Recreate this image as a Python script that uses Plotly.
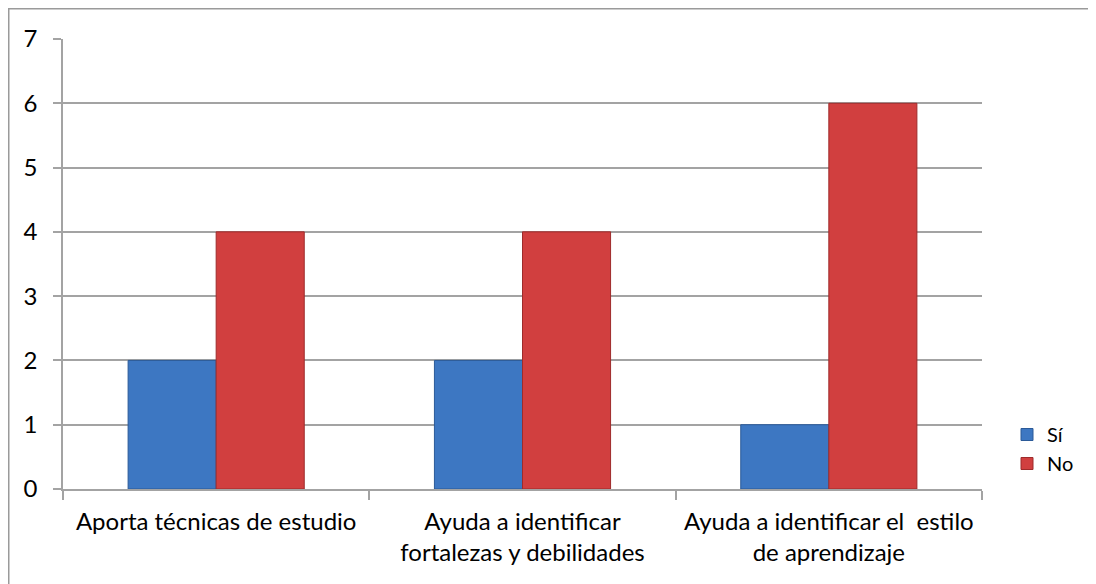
import plotly.graph_objects as go

categories = ["Aporta técnicas de estudio",
              "Ayuda a identificar<br>fortalezas y debilidades",
              "Ayuda a identificar el  estilo<br>de aprendizaje"]
si_values = [2, 2, 1]
no_values = [4, 4, 6]
y_ticks = [0, 1, 2, 3, 4, 5, 6, 7]

FONT = "Lato"
GRID = "#A3A3A3"
FS = 24

fig = go.Figure()
fig.add_trace(go.Bar(name="Sí", x=categories, y=si_values,
                     marker=dict(color="#3D77C2", line=dict(color="#2B5A98", width=1))))
fig.add_trace(go.Bar(name="No", x=categories, y=no_values,
                     marker=dict(color="#D13F3F", line=dict(color="#9E2B2B", width=1))))

# page body has an 8px margin, so the figure starts at (8, 8) on screen
W, H = 1088, 576
L, R, T, B = 55, 114, 31, 95
pw, ph = W - L - R, H - T - B

fig.update_layout(
    width=W, height=H,
    margin=dict(l=L, r=R, t=T, b=B, autoexpand=False),
    paper_bgcolor="white", plot_bgcolor="white",
    barmode="group", bargap=0.425, bargroupgap=0,
    font=dict(family=FONT, size=FS, color="#000000"),
    showlegend=True,
    legend=dict(x=(999 - L) / pw, y=(481 - 441) / ph, xanchor="left", yanchor="middle",
                font=dict(size=20), bgcolor="rgba(0,0,0,0)", tracegroupgap=0,
                itemwidth=30),
    shapes=[dict(type="rect", xref="paper", yref="paper",
                 x0=(0.75 - L) / pw, x1=(1200 - L) / pw,
                 y0=-(700 - (T + ph)) / ph, y1=1 + (T - 0.75) / ph,
                 line=dict(color="#9A9A9A", width=1.5), layer="below")],
)
fig.update_xaxes(showline=True, linecolor=GRID, linewidth=1.5,
                 ticks="outside", tickson="boundaries", ticklen=9, tickcolor=GRID,
                 tickwidth=1.5, showgrid=False, ticklabelstandoff=10,
                 tickfont=dict(family=FONT, size=FS, color="#000000"))
fig.update_yaxes(range=[0, 7], tickvals=y_ticks, showline=True, linecolor=GRID, linewidth=1.5,
                 ticks="outside", ticklen=8, tickcolor=GRID, tickwidth=1.5,
                 showgrid=True, gridcolor=GRID, gridwidth=1.5, zeroline=False,
                 ticklabelstandoff=11,
                 tickfont=dict(family=FONT, size=FS, color="#000000"))

fig.write_html("out.html")
